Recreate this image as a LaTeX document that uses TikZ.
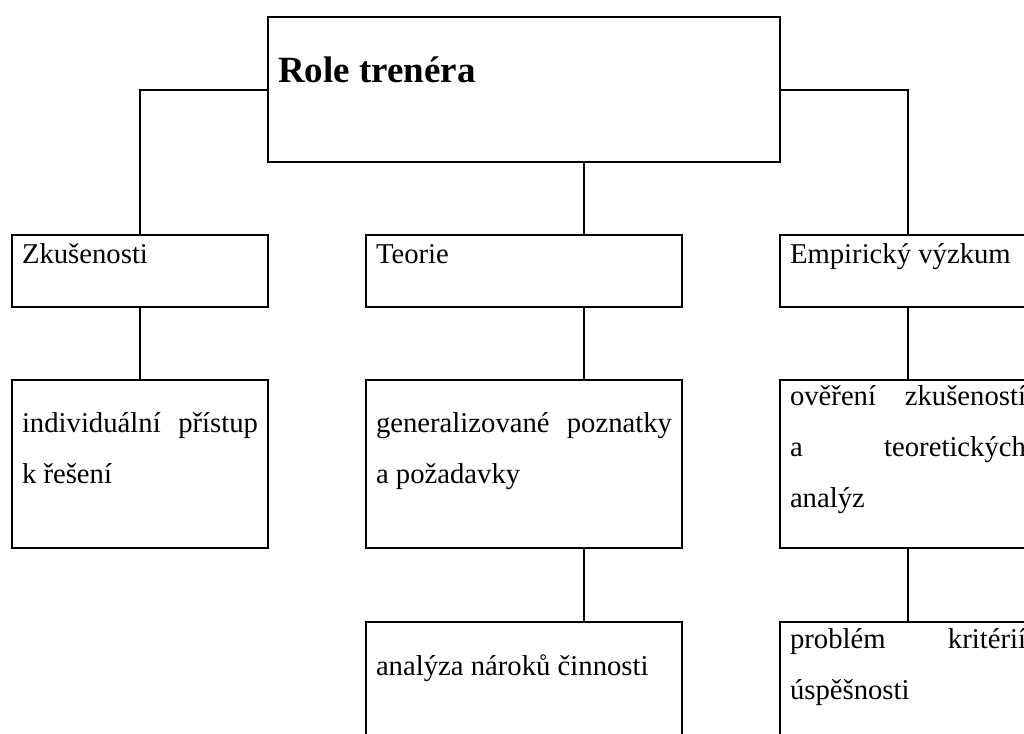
\documentclass[tikz,border=0pt]{standalone}
\usepackage{fontspec}
\setmainfont{Liberation Serif}
\usetikzlibrary{positioning}
\tolerance=10000
\hyphenpenalty=10000

\begin{document}
\begin{tikzpicture}[x=1pt, y=-1pt,
    box/.style={draw, line width=1pt, outer sep=0pt, inner xsep=5pt, inner ysep=0pt,
      align=justify, font=\fontsize{14.35}{25.5}\selectfont},
    narrow/.style={box, text width=118pt},
    wide/.style={box, text width=148pt},
    tall/.style 2 args={text height=#1pt, text depth=#2pt},
    conn/.style={draw, line width=1pt}]
  \useasboundingbox (0,0) rectangle (512,367);
  \clip (0,0) rectangle (512,367);
  % first row
  \node[narrow, tall={14}{22}, anchor=north west] (zkus) at (6,117.5) {Zkušenosti};
  \node[wide, tall={14}{22}] (teorie) [right=49pt of zkus] {Teorie};
  \node[narrow, tall={14}{22}] (empir) [right=49pt of teorie] {Empirický výzkum};
  \node[box, text width=246pt, tall={32.5}{40}, font=\fontsize{18.5}{22}\selectfont\bfseries]
    (role) [above=36.5pt of zkus.north east, anchor=south west] {Role trenéra};
  % second row
  \node[narrow, tall={26}{58}] (pristup) [below=36.5pt of zkus] {individuální přístup\linebreak k řešení};
  \node[wide, tall={26}{58}] (poznatky) [below=36.5pt of teorie] {generalizované poznatky\linebreak a požadavky};
  \node[narrow, tall={12.5}{71.5}] (overeni) [below=36.5pt of empir] {ověření zkušeností\linebreak a teoretických\linebreak analýz};
  % third row
  \node[wide, tall={26.5}{57.5}] (naroky) [below=37pt of poznatky] {analýza nároků činnosti};
  \node[narrow, tall={13}{71}] (kriteria) [below=37pt of overeni] {problém kritérií\linebreak úspěšnosti};
  % connectors
  \path[conn] (role.west) -| (zkus.north);
  \path[conn] (role.east) -| (empir.north);
  \path[conn] ([xshift=30pt]role.south) -- ([xshift=30pt]teorie.north);
  \path[conn] ([xshift=30pt]teorie.south) -- ([xshift=30pt]poznatky.north);
  \path[conn] ([xshift=30pt]poznatky.south) -- ([xshift=30pt]naroky.north);
  \path[conn] (zkus) -- (pristup);
  \path[conn] (empir) -- (overeni);
  \path[conn] (overeni) -- (kriteria);
\end{tikzpicture}
\end{document}
